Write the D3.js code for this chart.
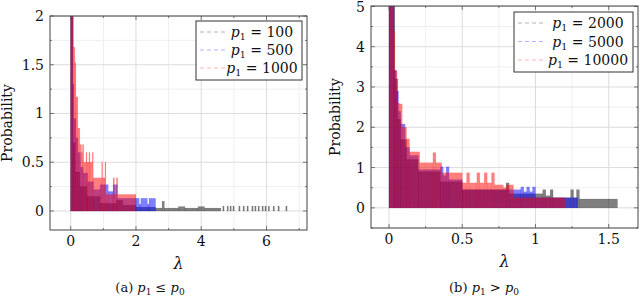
<!DOCTYPE html>
<html><head><meta charset="utf-8">
<script src="https://cdn.jsdelivr.net/npm/d3@7"></script>
<style>
html,body{margin:0;padding:0;background:#fff;}
</style></head>
<body><svg id="c" width="640" height="299"></svg>
<script>
// ---------- data: histogram segments [lambdaStart, lambdaEnd, probabilityDensity] ----------
// Panel (a) p1 <= p0
const grayA = [[0,0.07,3.0],[0.07,0.14,0.7],[0.14,0.28,0.4],[0.28,0.5,0.25],[0.5,0.9,0.15],[0.9,1.4,0.08],[1.4,1.6,0.11],[1.6,2.0,0.06],[2.0,2.6,0.04],[2.6,2.8,0.03],[2.8,2.87,0.1],[2.87,3.3,0.03],[3.3,3.5,0.045],[3.5,3.9,0.03],[3.9,4.1,0.045],[4.1,4.6,0.03],
  [4.66,4.7,0.05],[4.79,4.83,0.05],[4.88,4.92,0.05],[4.97,5.01,0.05],[5.15,5.19,0.05],[5.28,5.32,0.05],[5.40,5.44,0.05],[5.55,5.59,0.05],[5.64,5.68,0.05],[5.74,5.78,0.05],[5.86,5.9,0.05],[5.95,5.99,0.05],[6.05,6.09,0.05],[6.20,6.24,0.05],[6.35,6.39,0.05],[6.59,6.63,0.05]];
const blueA = [[0,0.06,3.0],[0.06,0.1,1.3],[0.1,0.16,0.95],[0.16,0.22,0.75],[0.22,0.3,0.6],[0.3,0.38,0.45],[0.38,0.52,0.39],[0.52,0.7,0.3],[0.7,0.9,0.22],[0.9,1.15,0.27],[1.15,1.3,0.2],[1.3,1.43,0.27],[1.43,2.0,0.13],[2.0,2.1,0.13],[2.1,2.15,0.07],[2.15,2.35,0.13],[2.35,2.4,0.07],[2.4,2.6,0.13]];
const redA = [[0,0.09,3.0],[0.09,0.13,1.68],[0.13,0.16,1.52],[0.16,0.22,1.17],[0.22,0.28,0.85],[0.28,0.33,0.68],[0.33,0.36,0.6],[0.36,0.4,0.68],[0.4,0.47,0.5],[0.47,0.5,0.6],[0.5,0.56,0.5],[0.56,0.59,0.6],[0.59,0.66,0.5],[0.66,0.69,0.6],[0.69,0.95,0.34],[0.95,0.98,0.5],[0.98,1.05,0.34],[1.05,1.08,0.5],[1.08,1.3,0.17],[1.3,1.34,0.34],[1.34,1.4,0.17],[1.4,1.44,0.34],[1.44,2.0,0.17]];
// Panel (b) p1 > p0
const grayB = [[0,0.04,6],[0.04,0.06,3.2],[0.06,0.08,2.2],[0.08,0.12,1.7],[0.12,0.2,1.2],[0.2,0.35,0.9],[0.35,0.5,0.65],[0.5,0.8,0.45],[0.8,0.82,0.62],[0.82,1.05,0.35],[1.05,1.07,0.45],[1.07,1.1,0.3],[1.1,1.12,0.45],[1.12,1.24,0.25],[1.24,1.26,0.45],[1.26,1.28,0.25],[1.28,1.3,0.45],[1.3,1.56,0.22]];
const blueB = [[0,0.035,6],[0.035,0.05,3.42],[0.05,0.065,2.9],[0.065,0.08,2.4],[0.08,0.11,2.08],[0.11,0.14,1.5],[0.14,0.2,1.3],[0.2,0.35,0.95],[0.35,0.37,1.02],[0.37,0.39,0.8],[0.39,0.41,1.02],[0.41,0.5,0.7],[0.5,0.9,0.45],[0.9,0.92,0.52],[0.92,0.94,0.4],[0.94,0.96,0.52],[0.96,0.98,0.4],[0.98,1.0,0.52],[1.0,1.29,0.25]];
const redB = [[0,0.03,6],[0.03,0.04,4.4],[0.04,0.055,3.4],[0.055,0.07,2.6],[0.07,0.09,2.58],[0.09,0.12,2.0],[0.12,0.14,1.71],[0.14,0.21,1.39],[0.21,0.3,1.12],[0.3,0.32,1.37],[0.32,0.36,1.12],[0.36,0.5,0.87],[0.5,0.53,0.62],[0.53,0.55,0.87],[0.55,0.6,0.62],[0.6,0.62,0.87],[0.62,0.65,0.62],[0.65,0.67,0.87],[0.67,0.7,0.62],[0.7,0.72,0.87],[0.72,0.78,0.57],[0.78,0.8,0.5],[0.8,0.85,0.57],[0.85,1.2,0.25]];

const xTicksA = [0,2,4,6], xMinorA = [1,3,5,7];
const yTicksA = [0,0.5,1,1.5,2], yMinorA = [0.25,0.75,1.25,1.75];
const xTicksB = [0,0.5,1,1.5], xMinorB = [0.25,0.75,1.25];
const yTicksB = [0,1,2,3,4,5], yMinorB = [-0.5,0.5,1.5,2.5,3.5,4.5];
const legendA = ["100","500","1000"];
const legendB = ["2000","5000","10000"];
const colors = ["#000000","#0000ff","#ff0000"];

const svg = d3.select("#c");
const FF = "DejaVu Serif";

function panel(o){
  const g = svg.append("g").attr("font-family",FF);
  const x = d3.scaleLinear().domain(o.xd).range([o.l,o.r]);
  const y = d3.scaleLinear().domain(o.yd).range([o.b,o.t]);
  g.selectAll(".gmx").data(o.xMinor).join("line").attr("x1",d=>x(d)).attr("x2",d=>x(d)).attr("y1",o.t).attr("y2",o.b).attr("stroke","#efefef");
  g.selectAll(".gmy").data(o.yMinor).join("line").attr("y1",d=>y(d)).attr("y2",d=>y(d)).attr("x1",o.l).attr("x2",o.r).attr("stroke","#efefef");
  g.selectAll(".gx").data(o.xTicks).join("line").attr("x1",d=>x(d)).attr("x2",d=>x(d)).attr("y1",o.t).attr("y2",o.b).attr("stroke","#dcdcdc");
  g.selectAll(".gy").data(o.yTicks).join("line").attr("y1",d=>y(d)).attr("y2",d=>y(d)).attr("x1",o.l).attr("x2",o.r).attr("stroke","#dcdcdc");
  const cid = "clip"+o.id;
  svg.append("clipPath").attr("id",cid).append("rect").attr("x",o.l).attr("y",o.t).attr("width",o.r-o.l).attr("height",o.b-o.t);
  const bars = g.append("g").attr("clip-path",`url(#${cid})`);
  o.series.forEach((s,i)=>{
    bars.append("g").selectAll("rect").data(s).join("rect")
      .attr("x",d=>x(d[0])).attr("width",d=>Math.max(0.5,x(d[1])-x(d[0])))
      .attr("y",d=>y(d[2])).attr("height",d=>y(0)-y(d[2]))
      .attr("fill",colors[i]).attr("fill-opacity",0.5)
      .attr("stroke",colors[i]).attr("stroke-opacity",0.2).attr("stroke-width",0.5);
  });
  const tk = g.append("g").attr("stroke","#555").attr("stroke-width",0.8);
  o.xTicks.forEach(d=>{ tk.append("line").attr("x1",x(d)).attr("x2",x(d)).attr("y1",o.b).attr("y2",o.b-4);
                        tk.append("line").attr("x1",x(d)).attr("x2",x(d)).attr("y1",o.t).attr("y2",o.t+4);});
  o.yTicks.forEach(d=>{ tk.append("line").attr("y1",y(d)).attr("y2",y(d)).attr("x1",o.l).attr("x2",o.l+4);
                        tk.append("line").attr("y1",y(d)).attr("y2",y(d)).attr("x1",o.r).attr("x2",o.r-4);});
  o.xMinor.forEach(d=>{ tk.append("line").attr("x1",x(d)).attr("x2",x(d)).attr("y1",o.b).attr("y2",o.b-2);
                        tk.append("line").attr("x1",x(d)).attr("x2",x(d)).attr("y1",o.t).attr("y2",o.t+2);});
  o.yMinor.forEach(d=>{ tk.append("line").attr("y1",y(d)).attr("y2",y(d)).attr("x1",o.l).attr("x2",o.l+2);
                        tk.append("line").attr("y1",y(d)).attr("y2",y(d)).attr("x1",o.r).attr("x2",o.r-2);});
  g.append("rect").attr("x",o.l).attr("y",o.t).attr("width",o.r-o.l).attr("height",o.b-o.t)
    .attr("fill","none").attr("stroke","#444").attr("stroke-width",1);
  g.selectAll(".xl").data(o.xTicks).join("text").attr("x",d=>x(d)).attr("y",o.b+16)
    .attr("text-anchor","middle").attr("font-size",14).attr("fill","#111").text(d=>d3.format("")(d));
  g.selectAll(".yl").data(o.yTicks).join("text").attr("x",o.l-6).attr("y",d=>Math.max(y(d)+5,12))
    .attr("text-anchor","end").attr("font-size",14).attr("fill","#111").text(d=>d3.format("")(d));
  g.append("text").attr("x",(o.l+o.r)/2).attr("y",o.b+39).attr("text-anchor","middle")
    .attr("font-size",16).attr("font-style","italic").attr("fill","#111").text("λ");
  g.append("text").attr("transform",`translate(${o.ylx},${(o.t+o.b)/2}) rotate(-90)`)
    .attr("text-anchor","middle").attr("font-size",14).attr("fill","#111").text("Probability");
  const L = o.leg;
  g.append("rect").attr("x",L.x).attr("y",L.y).attr("width",L.w).attr("height",L.h)
    .attr("fill","#fff").attr("stroke","#333").attr("stroke-width",1);
  o.legLabels.forEach((lab,i)=>{
    const yy = L.y + 11 + i*L.dy;
    g.append("line").attr("x1",L.x+4).attr("x2",L.x+32).attr("y1",yy).attr("y2",yy)
      .attr("stroke",colors[i]).attr("stroke-opacity",0.3).attr("stroke-dasharray","4,3").attr("stroke-width",1);
    const t = g.append("text").attr("x",L.tx).attr("y",yy+5).attr("text-anchor","middle").attr("font-size",14).attr("fill","#111");
    t.append("tspan").attr("font-style","italic").text("p");
    t.append("tspan").attr("font-size",9.5).attr("dy",3).text("1");
    t.append("tspan").attr("dy",-3).text(" = "+lab);
  });
  const c = g.append("text").attr("x",o.capx).attr("y",292).attr("text-anchor","middle").attr("font-size",13).attr("fill","#111");
  c.append("tspan").text(o.capL+" ");
  c.append("tspan").attr("font-style","italic").text("p");
  c.append("tspan").attr("font-size",9).attr("dy",3).text("1");
  c.append("tspan").attr("dy",-3).text(" "+o.capOp+" ");
  c.append("tspan").attr("font-style","italic").text("p");
  c.append("tspan").attr("font-size",9).attr("dy",3).text("0");
}

panel({id:"a", l:50, r:307, t:16, b:230, xd:[-0.634,7.24], yd:[-0.195,2],
  xTicks:xTicksA, xMinor:xMinorA, yTicks:yTicksA, yMinor:yMinorA,
  series:[grayA,blueA,redA], ylx:12,
  leg:{x:196,y:21,w:106,h:59,dy:18,tx:262}, legLabels:legendA,
  capx:150, capL:"(a)", capOp:"≤"});
panel({id:"b", l:371, r:638, t:6, b:228, xd:[-0.123,1.70], yd:[-0.5,5.01],
  xTicks:xTicksB, xMinor:xMinorB, yTicks:yTicksB, yMinor:yMinorB,
  series:[grayB,blueB,redB], ylx:340,
  leg:{x:514,y:12,w:119,h:60,dy:18.5,tx:588}, legLabels:legendB,
  capx:484, capL:"(b)", capOp:">"});
</script></body></html>
